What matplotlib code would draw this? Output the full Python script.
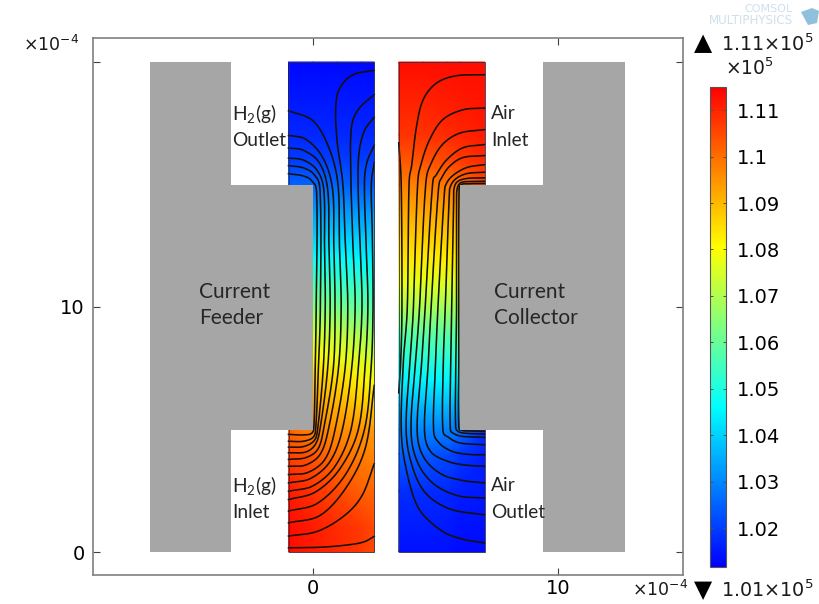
import numpy as np
import matplotlib
matplotlib.use("Agg")
import matplotlib.pyplot as plt
from matplotlib.colors import LinearSegmentedColormap, Normalize
from matplotlib.cm import ScalarMappable
from matplotlib.patches import Polygon, Rectangle

plt.rcParams['mathtext.default'] = 'regular'

# pressure tables, in units of 1e5, rows follow the y levels
left_x = [-1, 0, 1, 2, 2.5]
left_y = [0, 1, 2.5, 4, 5, 6, 7, 8, 9, 10, 11, 12, 13, 14, 15, 16, 17, 20]
left_p = [
    [1.113, 1.111, 1.109, 1.107, 1.105],
    [1.113, 1.111, 1.109, 1.107, 1.105],
    [1.111, 1.108, 1.105, 1.102, 1.101],
    [1.106, 1.103, 1.100, 1.098, 1.097],
    [1.101, 1.097, 1.096, 1.095, 1.094],
    [1.093, 1.093, 1.091, 1.088, 1.087],
    [1.088, 1.088, 1.086, 1.082, 1.080],
    [1.081, 1.081, 1.078, 1.075, 1.073],
    [1.073, 1.073, 1.071, 1.068, 1.066],
    [1.064, 1.064, 1.062, 1.059, 1.058],
    [1.056, 1.056, 1.054, 1.052, 1.051],
    [1.047, 1.047, 1.046, 1.045, 1.044],
    [1.039, 1.039, 1.039, 1.038, 1.038],
    [1.032, 1.032, 1.032, 1.031, 1.031],
    [1.025, 1.025, 1.025, 1.024, 1.024],
    [1.020, 1.020, 1.020, 1.020, 1.020],
    [1.017, 1.017, 1.017, 1.017, 1.017],
    [1.0125, 1.0125, 1.0125, 1.0125, 1.0125],
]

right_x = [3.5, 4.5, 5.5, 6, 7]
right_y = [0, 2.5, 4, 5, 6, 7, 8, 9, 10, 11, 12, 13, 14, 15, 16, 17, 20]
right_p = [
    [1.014, 1.014, 1.014, 1.013, 1.013],
    [1.018, 1.018, 1.017, 1.016, 1.015],
    [1.025, 1.024, 1.022, 1.019, 1.016],
    [1.030, 1.030, 1.029, 1.027, 1.018],
    [1.037, 1.037, 1.037, 1.036, 1.034],
    [1.045, 1.045, 1.045, 1.045, 1.045],
    [1.052, 1.052, 1.052, 1.052, 1.052],
    [1.059, 1.059, 1.059, 1.059, 1.059],
    [1.070, 1.069, 1.068, 1.068, 1.068],
    [1.078, 1.077, 1.076, 1.076, 1.076],
    [1.084, 1.083, 1.083, 1.083, 1.083],
    [1.088, 1.088, 1.088, 1.088, 1.088],
    [1.092, 1.093, 1.093, 1.093, 1.093],
    [1.098, 1.098, 1.099, 1.100, 1.106],
    [1.103, 1.104, 1.105, 1.107, 1.109],
    [1.108, 1.108, 1.109, 1.110, 1.111],
    [1.113, 1.113, 1.113, 1.113, 1.113],
]

# streamlines, x and y in units of 1e-4
left_lines = [
    [(-1, 4.8), (-0.4, 4.78), (-0.05, 4.85), (0.04, 5.2), (0.09, 7.5), (0.13, 10), (0.15, 14.6), (-0.05, 15.15), (-0.4, 15.35), (-1, 15.44)],
    [(-1, 4.52), (-0.4, 4.52), (0.02, 4.7), (0.12, 5.2), (0.22, 7.5), (0.3, 10), (0.29, 14.7), (0.05, 15.4), (-0.4, 15.68), (-1, 15.77)],
    [(-1, 4.28), (-0.4, 4.3), (0.05, 4.55), (0.2, 5.1), (0.42, 7.5), (0.5, 10), (0.47, 12.5), (0.44, 14.8), (0.15, 15.6), (-0.4, 16), (-1, 16.08)],
    [(-1, 4.05), (-0.3, 4.08), (0.1, 4.4), (0.3, 5.1), (0.6, 7.5), (0.7, 10), (0.65, 12.5), (0.6, 14.8), (0.25, 15.9), (-0.4, 16.4), (-1, 16.49)],
    [(-1, 3.78), (-0.3, 3.85), (0.2, 4.2), (0.45, 5.1), (0.83, 7.5), (0.9, 10), (0.85, 12.5), (0.8, 14.8), (0.4, 16.1), (-0.3, 16.85), (-1, 17)],
    [(-1, 3.5), (-0.3, 3.55), (0.3, 4), (0.65, 5.1), (1.04, 7.5), (1.15, 10), (1.08, 12.5), (1.02, 15), (0.65, 16.5), (0, 17.6), (-1, 18.01)],
    [(-1, 3.16), (-0.2, 3.25), (0.5, 3.8), (0.9, 5), (1.31, 7.5), (1.42, 10), (1.32, 12.5), (1.22, 15), (0.98, 16.8), (0.93, 18.2), (1.1, 18.95), (1.63, 19.48), (2.5, 19.66)],
    [(-1, 2.82), (-0.1, 3), (0.7, 3.7), (1.2, 5), (1.58, 7.5), (1.72, 10), (1.63, 12.5), (1.55, 15), (1.56, 17.24), (1.84, 18.05), (2.5, 18.67)],
    [(-1, 2.48), (0, 2.7), (0.9, 3.5), (1.55, 5), (1.85, 7.5), (2, 10), (1.92, 12.5), (1.84, 15), (1.88, 16.3), (2.1, 17.2), (2.5, 17.75)],
    [(-1, 2.14), (0.1, 2.45), (1.1, 3.4), (1.85, 5), (2.12, 7.5), (2.24, 10), (2.17, 12.5), (2.1, 15), (2.2, 15.9), (2.5, 16.6)],
    [(-1, 1.67), (0.2, 2), (1.35, 3.2), (2.1, 5), (2.37, 7.5), (2.45, 10), (2.42, 13), (2.38, 15), (2.5, 15.9)],
    [(-1, 1.19), (0.3, 1.5), (1.4, 2.7), (2.15, 4.3), (2.5, 6.8)],
    [(-1, 0.65), (0.2, 0.85), (1.3, 1.5), (2, 2.3), (2.5, 3.6)],
    [(-1, 0.17), (0.4, 0.2), (1.5, 0.3), (2.1, 0.42), (2.5, 0.64)],
]
right_lines = [
    [(3.5, 16.7), (3.6, 15), (3.63, 10), (3.58, 7.8), (3.5, 6.5)],
    [(7, 19.48), (5.85, 19.44), (5.04, 19.14), (4.5, 18.47), (4.23, 17.4), (4.03, 15.8), (3.92, 15), (3.85, 10), (3.69, 7.8), (3.6, 5), (3.8, 3.4), (4.3, 1.8), (5.2, 0.9), (6, 0.55), (7, 0.37)],
    [(7, 18.12), (6.12, 18.05), (5.3, 17.65), (4.77, 16.85), (4.43, 15.9), (4.27, 15), (4.1, 10), (3.96, 7.8), (3.8, 5), (4.05, 3.5), (4.6, 2.4), (5.6, 1.75), (7, 1.52)],
    [(7, 17.24), (6, 17.1), (5.3, 16.65), (4.84, 15.9), (4.6, 15), (4.35, 10), (4.19, 7.8), (4, 5), (4.25, 3.7), (4.9, 2.8), (5.9, 2.3), (7, 2.2)],
    [(7, 16.63), (6.12, 16.5), (5.45, 16), (5.04, 15.4), (4.88, 15), (4.58, 10), (4.44, 7.8), (4.25, 5), (4.5, 3.9), (5.2, 3.2), (6.1, 2.92), (7, 2.82)],
    [(7, 16.18), (6.12, 16.1), (5.58, 15.75), (5.27, 15.3), (5.12, 14.8), (4.82, 10), (4.71, 7.8), (4.55, 5), (4.8, 4.1), (5.5, 3.7), (6.2, 3.55), (7, 3.5)],
    [(7, 15.81), (6.3, 15.7), (5.75, 15.4), (5.45, 15.05), (5.36, 14.6), (5.1, 10), (5.01, 7.8), (4.92, 5), (5.15, 4.45), (5.7, 4.1), (6.4, 3.98), (7, 3.97)],
    [(7, 15.5), (6.3, 15.45), (5.85, 15.25), (5.62, 14.95), (5.56, 14.5), (5.4, 10), (5.32, 7.8), (5.3, 5), (5.5, 4.7), (6, 4.45), (7, 4.38)],
    [(7, 15.27), (6.3, 15.25), (5.9, 15.12), (5.76, 14.85), (5.74, 14.3), (5.66, 10), (5.62, 7.8), (5.6, 5.1), (5.72, 4.85), (6.1, 4.72), (7, 4.68)],
    [(7, 15.13), (6.3, 15.12), (6, 15.05), (5.88, 14.8), (5.86, 14.2), (5.86, 10), (5.83, 7.8), (5.82, 5.2), (5.93, 4.92), (6.3, 4.84), (7, 4.82)],
    [(7, 15.04), (6.4, 15.03), (6.03, 14.98), (5.96, 14.6), (5.95, 10), (5.95, 7.8), (5.95, 5.15), (6.08, 4.97), (6.5, 4.94), (7, 4.93)],
]

# grey current feeder and collector outlines
feeder_x = [-6.65, -3.35, -3.35, 0, 0, -3.35, -3.35, -6.65]
collector_x = [12.75, 9.4, 9.4, 6, 6, 9.4, 9.4, 12.75]
plate_y = [0, 0, 5, 5, 15, 15, 20, 20]

axis_ticks = [0, 10]
y_ticks = [0, 10, 20]
y_tick_labels = ['0', '10', '']
cbar_ticks = [1.02, 1.03, 1.04, 1.05, 1.06, 1.07, 1.08, 1.09, 1.1, 1.11]
cbar_labels = ['1.02', '1.03', '1.04', '1.05', '1.06', '1.07', '1.08', '1.09', '1.1', '1.11']
p_min, p_max = 1.0116, 1.115

W, H = 819, 604
text_font = ['Lato', 'DejaVu Sans']

rainbow = LinearSegmentedColormap.from_list('rainbow_comsol', ['#0000ff', '#00ffff', '#ffff00', '#ff0000'])
norm = Normalize(p_min, p_max)


def smooth(pts, n=14):
    # hermite curve through the read points, chord length as parameter
    pts = np.array(pts, dtype=float)
    t = np.r_[0, np.cumsum(np.hypot(*np.diff(pts, axis=0).T) ** 0.5)]
    m = np.zeros_like(pts)
    m[1:-1] = (pts[2:] - pts[:-2]) / (t[2:] - t[:-2])[:, None]
    m[0] = (pts[1] - pts[0]) / (t[1] - t[0])
    m[-1] = (pts[-1] - pts[-2]) / (t[-1] - t[-2])
    out = []
    for i in range(len(pts) - 1):
        h = t[i + 1] - t[i]
        s = np.linspace(0, 1, n, endpoint=False)[:, None]
        out.append((2 * s ** 3 - 3 * s ** 2 + 1) * pts[i] + (s ** 3 - 2 * s ** 2 + s) * h * m[i]
                   + (3 * s ** 2 - 2 * s ** 3) * pts[i + 1] + (s ** 3 - s ** 2) * h * m[i + 1])
    out.append(pts[-1:])
    return np.vstack(out)


def field(ax, xs, ys, vals):
    X, Y = np.meshgrid(xs, ys)
    ax.pcolormesh(X, Y, np.array(vals), cmap=rainbow, norm=norm, shading='gouraud', zorder=1)
    ax.add_patch(Rectangle((xs[0], ys[0]), xs[-1] - xs[0], ys[-1] - ys[0], fill=False,
                           ec='#30304a', lw=0.6, zorder=4))


fig = plt.figure(figsize=(W / 100, H / 100), dpi=100)
ax = fig.add_axes([93 / W, (H - 575) / H, 590 / W, 537 / H])

field(ax, left_x, left_y, left_p)
field(ax, right_x, right_y, right_p)

for line in left_lines + right_lines:
    xy = smooth(line)
    ax.plot(xy[:, 0], xy[:, 1], color='#151008', lw=1.15, zorder=3)

ax.add_patch(Polygon(list(zip(feeder_x, plate_y)), fc='#a6a6a6', ec='none', zorder=5))
ax.add_patch(Polygon(list(zip(collector_x, plate_y)), fc='#a6a6a6', ec='none', zorder=5))

ax.set_xlim((93 - 313) / 24.5, (683 - 313) / 24.5)
ax.set_ylim((552 - 575) / 24.5, (552 - 38) / 24.5)
ax.set_xticks(axis_ticks)
ax.set_yticks(y_ticks)
ax.set_yticklabels(y_tick_labels)
ax.tick_params(direction='in', length=5, width=0.8, color='#404040', labelsize=14,
               top=True, right=True, pad=3)
ax.tick_params(axis='y', pad=6)
for s in ax.spines.values():
    s.set_color('#808080')
    s.set_linewidth(1.2)

labels = [(-3.3, 17.9, 'H$_2$(g)'), (-3.3, 16.8, 'Outlet'), (-3.3, 2.7, 'H$_2$(g)'), (-3.3, 1.63, 'Inlet'),
          (7.27, 17.9, 'Air'), (7.27, 16.8, 'Inlet'), (7.27, 2.7, 'Air'), (7.27, 1.63, 'Outlet')]
for x, y, s in labels:
    ax.text(x, y, s, fontsize=13.8, family=text_font, color='#262626', ha='left', va='center', zorder=6)
big_labels = [(-4.65, 10.6, 'Current'), (-4.65, 9.55, 'Feeder'),
              (7.39, 10.6, 'Current'), (7.39, 9.55, 'Collector')]
for x, y, s in big_labels:
    ax.text(x, y, s, fontsize=15, family=text_font, color='#262626', ha='left', va='center', zorder=6)

cax = fig.add_axes([710 / W, (H - 567) / H, 15.5 / W, 480 / H])
cb = fig.colorbar(ScalarMappable(norm=norm, cmap=rainbow), cax=cax)
cb.set_ticks(cbar_ticks)
cb.set_ticklabels(cbar_labels)
cb.ax.tick_params(direction='in', length=2.5, width=0.7, color='#50503a', left=True, right=True,
                  labelsize=14, pad=8)
cb.outline.set_linewidth(0.8)
cb.outline.set_edgecolor('#555555')

dark = '#1a1a1a'
fig.text(23 / W, 1 - 45 / H, '×10$^{-4}$', fontsize=12.5, color=dark, ha='left', va='center')
fig.text(632 / W, 1 - 590 / H, '×10$^{-4}$', fontsize=12.5, color=dark, ha='left', va='center')
fig.text(694 / W, 1 - 43 / H, '▲', fontsize=17, color='black', ha='left', va='center')
fig.text(721 / W, 1 - 44 / H, '1.11×10$^{5}$', fontsize=13.8, color=dark, ha='left', va='center')
fig.text(725 / W, 1 - 68 / H, '×10$^{5}$', fontsize=13.5, color=dark, ha='left', va='center')
fig.text(694 / W, 1 - 590 / H, '▼', fontsize=17, color='black', ha='left', va='center')
fig.text(721 / W, 1 - 590 / H, '1.01×10$^{5}$', fontsize=13.8, color=dark, ha='left', va='center')

fig.text(793 / W, 1 - 9.5 / H, 'COMSOL', fontsize=8, color='#cfe0ec', ha='right', va='center')
fig.text(793 / W, 1 - 20.5 / H, 'MULTIPHYSICS', fontsize=8.6, color='#cfe0ec', ha='right', va='center')
fig.add_artist(Polygon([[801 / W, 1 - 12 / H], [812 / W, 1 - 8 / H], [819 / W, 1 - 11 / H],
                        [817 / W, 1 - 23 / H], [808 / W, 1 - 25 / H]],
                       transform=fig.transFigure, fc='#8fc0dc', ec='none'))

fig.savefig('out.png', dpi=100)
